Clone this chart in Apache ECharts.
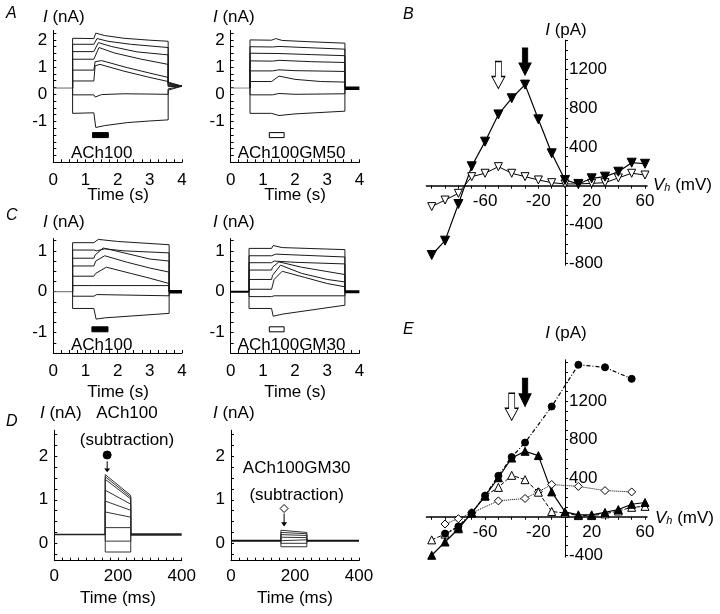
<!DOCTYPE html>
<html><head><meta charset="utf-8">
<script src="https://cdn.jsdelivr.net/npm/echarts@6/dist/echarts.min.js"></script>
<style>html,body{margin:0;padding:0;background:#fff}#c{width:720px;height:614px}</style>
</head><body><div id="c"></div>
<script>
// ---------- DATA ----------
// Panel A (time s, current nA)
const aLeftHold = [[0,0.23],[0.6,0.23]];
const aLeftTraces = [
 [[0.6,0.23],[0.6,2.06],[1.26,2.05],[1.32,2.25],[1.6,2.16],[2.2,2.06],[3.0,1.99],[3.57,1.95],[3.57,0.45],[4,0.3]],
 [[0.6,0.23],[0.6,1.84],[1.26,1.84],[1.36,2.05],[1.7,1.95],[2.4,1.84],[3.57,1.72],[3.57,0.42],[4,0.3]],
 [[0.6,0.23],[0.6,1.57],[1.26,1.57],[1.4,1.9],[1.8,1.76],[2.6,1.56],[3.57,1.45],[3.57,0.38],[4,0.3]],
 [[0.6,0.23],[0.6,1.29],[1.26,1.29],[1.42,1.72],[1.9,1.52],[2.7,1.3],[3.57,1.1],[3.57,0.35],[4,0.3]],
 [[0.6,0.23],[0.6,0.89],[1.26,0.89],[1.3,1.2],[1.5,1.24],[2.3,0.98],[3.0,0.78],[3.57,0.62],[3.57,0.32],[4,0.3]],
 [[0.6,0.23],[0.6,0.49],[1.26,0.49],[1.3,1.05],[1.45,1.1],[2.2,0.85],[3.0,0.62],[3.57,0.47],[3.57,0.28],[4,0.3]],
 [[0.6,0.23],[0.6,-0.02],[1.26,-0.02],[1.3,-0.1],[1.5,-0.01],[2.2,0.02],[3.57,0.0],[3.57,0.2],[4,0.3]],
 [[0.6,0.23],[0.6,-0.70],[1.26,-0.68],[1.32,-1.22],[1.6,-1.15],[2.3,-1.04],[3.0,-0.98],[3.57,-0.94],[3.57,0.15],[4,0.3]]
];
const aRightHold = [[0,0.23],[0.6,0.23]];
const aRightTail = [[3.55,0.22],[4,0.22]];
const aRightTraces = [
 [[0.6,0.23],[0.6,2.0],[1.27,1.99],[1.4,2.05],[1.6,1.98],[2.5,1.93],[3.55,1.88],[3.55,0.22]],
 [[0.6,0.23],[0.6,1.75],[1.3,1.74],[1.5,1.76],[2.5,1.71],[3.55,1.66],[3.55,0.22]],
 [[0.6,0.23],[0.6,1.51],[1.5,1.5],[2.5,1.46],[3.55,1.42],[3.55,0.22]],
 [[0.6,0.23],[0.6,1.23],[1.3,1.22],[1.5,1.25],[2.5,1.2],[3.55,1.17],[3.55,0.22]],
 [[0.6,0.23],[0.6,0.86],[1.3,0.86],[1.5,0.9],[2.0,0.87],[3.55,0.84],[3.55,0.22]],
 [[0.6,0.23],[0.6,0.47],[1.27,0.47],[1.5,0.67],[2.0,0.55],[2.8,0.47],[3.55,0.45],[3.55,0.22]],
 [[0.6,0.23],[0.6,-0.02],[1.3,-0.02],[1.5,0.03],[2.0,0.0],[3.55,0.02],[3.55,0.22]],
 [[0.6,0.23],[0.6,-0.70],[1.27,-0.70],[1.5,-0.78],[2.0,-0.72],[3.55,-0.62],[3.55,0.22]]
];
// Panel C
const cLeftHold = [[0,0.0],[0.6,0.0]];
const cLeftTail = [[3.6,0.0],[4,0.0]];
const cLeftTraces = [
 [[0.6,0],[0.6,1.20],[1.26,1.20],[1.4,1.28],[2.0,1.23],[3.6,1.15],[3.6,0]],
 [[0.6,0],[0.6,1.02],[1.26,1.02],[1.35,1.0],[1.6,1.05],[2.2,1.0],[3.6,0.95],[3.6,0]],
 [[0.6,0],[0.6,0.82],[1.26,0.82],[1.3,0.9],[1.55,1.07],[2.2,0.95],[3.0,0.8],[3.6,0.75],[3.6,0]],
 [[0.6,0],[0.6,0.63],[1.26,0.63],[1.32,0.75],[1.6,0.88],[2.3,0.72],[3.0,0.58],[3.6,0.48],[3.6,0]],
 [[0.6,0],[0.6,0.38],[1.26,0.38],[1.32,0.45],[1.65,0.6],[2.4,0.45],[3.0,0.33],[3.6,0.2],[3.6,0]],
 [[0.6,0],[0.6,0.15],[1.26,0.15],[3.6,0.15],[3.6,0]],
 [[0.6,0],[0.6,-0.11],[1.26,-0.11],[1.35,-0.07],[3.6,-0.1],[3.6,0]],
 [[0.6,0],[0.6,-0.41],[1.26,-0.41],[1.33,-0.67],[1.6,-0.64],[3.6,-0.53],[3.6,0]]
];
const cRightHold = [[0,0.0],[0.57,0.0]];
const cRightTail = [[3.55,0.0],[4,0.0]];
const cRightTraces = [
 [[0.57,0],[0.57,1.06],[1.27,1.06],[1.32,1.13],[1.6,1.08],[3.55,1.03],[3.55,0]],
 [[0.57,0],[0.57,0.88],[1.27,0.88],[1.4,0.92],[3.55,0.85],[3.55,0]],
 [[0.57,0],[0.57,0.71],[1.27,0.71],[1.35,0.75],[2.0,0.72],[3.55,0.68],[3.55,0]],
 [[0.57,0],[0.57,0.53],[1.27,0.53],[1.3,0.6],[1.5,0.73],[2.2,0.6],[3.55,0.42],[3.55,0]],
 [[0.57,0],[0.57,0.30],[1.27,0.30],[1.3,0.4],[1.55,0.65],[2.2,0.45],[3.0,0.3],[3.55,0.24],[3.55,0]],
 [[0.57,0],[0.57,0.06],[1.27,0.06],[1.35,0.3],[1.6,0.5],[2.3,0.35],[3.0,0.2],[3.55,0.12],[3.55,0]],
 [[0.57,0],[0.57,-0.12],[1.27,-0.12],[1.35,-0.1],[3.55,-0.1],[3.55,0]],
 [[0.57,0],[0.57,-0.41],[1.27,-0.41],[1.32,-0.6],[1.6,-0.55],[3.55,-0.33],[3.55,0]]
];
// ACh application bars [start s, end s, level nA]
const aBars = [[1.22,1.71,-1.5]];
const aBarsOpen = [[1.2,1.66,-1.5]];
const cBars = [[1.2,1.7,-0.92]];
const cBarsOpen = [[1.2,1.66,-0.92]];

// Panel D (time ms, current nA): subtracted traces
const dLeftBase = 0.2, dLeftOn = 160, dLeftOff = 240;
const dLeftStart = [1.58,1.53,1.47,1.22,0.97,0.72,0.36,0.05,-0.20];
const dLeftEnd   = [1.10,1.06,1.02,0.90,0.76,0.60,0.36,0.05,-0.20];
const dRightBase = 0.06, dRightOn = 156, dRightOff = 237;
const dRightStart = [0.30,0.25,0.20,0.14,0.08,0.0,-0.08];
const dRightEnd   = [0.25,0.22,0.18,0.13,0.08,0.0,-0.08];
const dLeftMark = [[166,2.03]], dLeftArrow = [[166,1.76]];
const dRightMark = [[166,0.80]], dRightArrow = [[166,0.535]];

// Panel B (Vh mV, I pA)
const bVh = [-100,-90,-80,-70,-60,-50,-40,-30,-20,-10,0,10,20,30,40,50,60];
const bAch100 = [-715,-567,-189,200,454,735,901,1042,684,334,59,18,76,93,144,237,226];
const bAch100GM50 = [-216,-148,-79,93,128,196,128,93,59,31,18,18,24,31,80,128,110];
const bArrowOpen = [[-50,1141]];
const bArrowFilled = [[-30,1278]];

// Panel E
const eCircleVh = [-90,-80,-70,-60,-50,-40,-30,-10,10,30,50];
const eCircle = [-175,-100,40,220,425,620,770,1145,1578,1552,1432];
const eDiamondVh = [-90,-80,-70,-50,-30,-20,-10,10,30,50];
const eDiamond = [-75,-20,40,165,190,260,335,315,272,258];
const eTriVh = [-100,-90,-80,-70,-60,-50,-40,-30,-20,-10,0,10,20,30,40,50,60];
const eTriFilled = [-400,-262,-125,40,215,405,610,680,635,258,50,20,20,45,75,130,148];
const eTriOpen = [-240,-180,-110,40,215,305,430,385,255,55,38,12,12,30,60,98,108];
const eArrowOpen = [[-40,1143]];
const eArrowFilled = [[-30,1290]];

// Tick labels
const traceSecLabels = [0,1,2,3,4];
const traceMsLabels = [0,200,400];
const aYLabels = [-1,0,1,2];
const cYLabels = [-1,0,1];
const dYLabels = [0,1,2];
const bXLabels = [-60,-20,20,60];
const bYLabels = [-800,-400,400,800,1200];
const eYLabels = [-400,400,800,1200];

// ---------- BUILD ----------
const FONT = 'Liberation Sans, Arial, Helvetica, sans-serif';
const FS = 17;
function steps(a,b,s){const r=[];for(let v=a;v<=b+1e-9;v+=s)r.push(+v.toFixed(4));return r;}
const plain = v => String(v);

const grids = [
 {left:53.3, top:30.4, width:128.7, height:131.9},  // A left
 {left:230.7,top:30.4, width:128.7, height:131.9},  // A right
 {left:53.3, top:238.6,width:128.7, height:114.4},  // C left
 {left:230.7,top:238.6,width:128.7, height:114.4},  // C right
 {left:54.3, top:430.2,width:127.4, height:130.5},  // D left
 {left:231,  top:430.2,width:128,   height:130.5},  // D right
 {left:426.4,top:40.2, width:220.6, height:225},    // B
 {left:426.4,top:359.8,width:220.6, height:197.4}   // E
];
function traceX(max, labels, tickStep, margin){
  return {type:'value',min:0,max:max,axisLine:{onZero:false,lineStyle:{color:'#000',width:1}},
    axisTick:{inside:true,length:3,customValues:steps(0,max,tickStep),lineStyle:{color:'#000'}},
    axisLabel:{customValues:labels,formatter:plain,margin:margin,fontFamily:FONT,fontSize:FS,color:'#000'},
    splitLine:{show:false}};
}
function traceY(min,max,labels,tmin,tmax,tstep){
  return {type:'value',min:min,max:max,axisLine:{onZero:false,lineStyle:{color:'#000',width:1}},
    axisTick:{inside:true,length:3,customValues:steps(tmin,tmax,tstep),lineStyle:{color:'#000'}},
    axisLabel:{customValues:labels,formatter:plain,margin:6,fontFamily:FONT,fontSize:FS,color:'#000'},
    splitLine:{show:false}};
}
const ivXmin = -104, ivXmax = 61.5;
function ivX(gi, ymin, ymax){
  const g = grids[gi];
  const off = -((0 - ymin)/(ymax - ymin))*g.height;   // put the axis on I = 0
  return {type:'value',min:ivXmin,max:ivXmax,position:'bottom',offset:off,
    axisLine:{onZero:false,lineStyle:{color:'#000',width:1.5}},
    axisTick:{inside:false,length:3,customValues:steps(-100,60,10),lineStyle:{color:'#000'}},
    axisLabel:{customValues:bXLabels,formatter:plain,margin:7,fontFamily:FONT,fontSize:FS,color:'#000'},
    splitLine:{show:false}};
}
function ivY(gi,min,max,labels,tmin,tmax){
  const g = grids[gi];
  const off = -((ivXmax - 0)/(ivXmax - ivXmin))*g.width;   // put the axis on Vh = 0
  return {type:'value',min:min,max:max,position:'right',offset:off,
    axisLine:{onZero:false,lineStyle:{color:'#000',width:1}},
    axisTick:{inside:false,length:3,customValues:steps(tmin,tmax,100),lineStyle:{color:'#000'}},
    axisLabel:{customValues:labels,formatter:plain,margin:4,fontFamily:FONT,fontSize:FS,color:'#000'},
    splitLine:{show:false}};
}
const bYmin=-820,bYmax=1500,eYmin=-420,eYmax=1630;
const xAxis = [traceX(4,traceSecLabels,0.25,10),traceX(4,traceSecLabels,0.25,10),
  traceX(4,traceSecLabels,0.25,10),traceX(4,traceSecLabels,0.25,10),
  traceX(400,traceMsLabels,25,7),traceX(400,traceMsLabels,25,7), ivX(6,bYmin,bYmax), ivX(7,eYmin,eYmax)];
xAxis.forEach((a,i)=>a.gridIndex=i);
const yAxis = [traceY(-2.5,2.35,aYLabels,-2.5,2.25,0.25),traceY(-2.5,2.35,aYLabels,-2.5,2.25,0.25),
  traceY(-1.5,1.3,cYLabels,-1.5,1.25,0.25),traceY(-1.5,1.3,cYLabels,-1.5,1.25,0.25),
  traceY(-0.4,2.6,dYLabels,-0.25,2.5,0.25),traceY(-0.4,2.6,dYLabels,-0.25,2.5,0.25),
  ivY(6,bYmin,bYmax,bYLabels,-800,1500), ivY(7,eYmin,eYmax,eYLabels,-400,1600)];
yAxis.forEach((a,i)=>a.gridIndex=i);

const series = [];
function line(gi, data, opt){
  opt = opt||{};
  series.push({type:'line',xAxisIndex:gi,yAxisIndex:gi,data:data,showSymbol:false,symbol:'none',
    silent:true,animation:false,z:opt.z||2,
    lineStyle:{color:opt.color||'#1a1a1a',width:opt.width||1,type:opt.type||'solid'}});
}
line(0,aLeftHold,{color:'#666'}); aLeftTraces.forEach(t=>line(0,t));
line(1,aRightHold,{color:'#888'}); aRightTraces.forEach(t=>line(1,t)); line(1,aRightTail,{width:3.5,color:'#000'});
line(2,cLeftHold,{color:'#666'}); cLeftTraces.forEach(t=>line(2,t)); line(2,cLeftTail,{width:3.5,color:'#000'});
line(3,cRightHold,{width:2,color:'#000'}); cRightTraces.forEach(t=>line(3,t)); line(3,cRightTail,{width:3,color:'#000'});
// D traces built from step levels
dLeftStart.forEach((s,i)=>line(4,[[dLeftOn,dLeftBase],[dLeftOn,s],[dLeftOff,dLeftEnd[i]],[dLeftOff,dLeftBase]],{color:'#333'}));
line(4,[[0,dLeftBase],[dLeftOn,dLeftBase]],{width:1.5,color:'#222'});
line(4,[[dLeftOff,dLeftBase],[400,dLeftBase]],{width:2.5,color:'#222'});
dRightStart.forEach((s,i)=>line(5,[[dRightOn,dRightBase],[dRightOn,s],[dRightOff,dRightEnd[i]],[dRightOff,dRightBase]],{color:'#333'}));
line(5,[[0,dRightBase],[dRightOn,dRightBase]],{width:2,color:'#111'});
line(5,[[dRightOff,dRightBase],[400,dRightBase]],{width:2,color:'#111'});

function barSeries(gi,data,fill){
  series.push({type:'custom',xAxisIndex:gi,yAxisIndex:gi,data:data,silent:true,animation:false,z:5,
    renderItem:(p,api)=>{const a=api.coord([api.value(0),api.value(2)]);const b=api.coord([api.value(1),api.value(2)]);
      return {type:'rect',shape:{x:a[0],y:a[1]-2.5,width:b[0]-a[0],height:5},style:{fill:fill,stroke:'#000',lineWidth:1}};}});
}
barSeries(0,aBars,'#000'); barSeries(1,aBarsOpen,'#fff');
barSeries(2,cBars,'#000'); barSeries(3,cBarsOpen,'#fff');

const thinArrow = 'path://M2.5,0 L3.5,0 L3.5,8 L6,8 L3,12 L0,8 L2.5,8 Z';
const blockArrow = 'path://M3.5,0 L9.5,0 L9.5,15 L13,15 L6.5,27 L0,15 L3.5,15 Z';
function scat(gi,data,symbol,size,fill,opt){
  opt=opt||{};
  series.push({type:'scatter',xAxisIndex:gi,yAxisIndex:gi,data:data,symbol:symbol,symbolSize:size,
    symbolRotate:opt.rotate||0,silent:true,animation:false,z:opt.z||6,
    itemStyle:{color:fill,borderColor:'#000',borderWidth:opt.bw===undefined?1:opt.bw,opacity:1}});
}
scat(4,dLeftMark,'circle',8,'#000');
scat(4,dLeftArrow,thinArrow,[6,11],'#000',{bw:0});
scat(5,dRightMark,'diamond',8,'#fff');
scat(5,dRightArrow,thinArrow,[6,13],'#000',{bw:0});

function ivSeries(gi,xs,ys,symbol,size,fill,ltype,lw,rot){
  series.push({type:'line',xAxisIndex:gi,yAxisIndex:gi,data:xs.map((v,i)=>[v,ys[i]]),
    symbol:symbol,symbolSize:size,symbolRotate:rot||0,showSymbol:true,silent:true,animation:false,z:4,
    lineStyle:{color:'#000',width:lw,type:ltype},
    itemStyle:{color:fill,borderColor:'#000',borderWidth:1}});
}
ivSeries(6,bVh,bAch100GM50,'triangle',8,'#fff','solid',1,180);
ivSeries(6,bVh,bAch100,'triangle',9,'#000','solid',1.2,180);
scat(6,bArrowOpen,blockArrow,[13,27],'#fff');
scat(6,bArrowFilled,blockArrow,[12,27],'#000');

ivSeries(7,eDiamondVh,eDiamond,'diamond',8,'#fff','dotted',1);
ivSeries(7,eTriVh,eTriOpen,'triangle',8,'#fff','dashed',1);
ivSeries(7,eCircleVh,eCircle,'circle',7,'#000',[4,2,1,2],1.2);
ivSeries(7,eTriVh,eTriFilled,'triangle',8,'#000','solid',1.2);
scat(7,eArrowOpen,blockArrow,[13,27],'#fff');
scat(7,eArrowFilled,blockArrow,[12,28],'#000');

// ---------- TEXT ----------
const rich = {i:{fontStyle:'italic',fontFamily:FONT,fontSize:FS},s:{fontStyle:'italic',fontFamily:FONT,fontSize:11,verticalAlign:'bottom',padding:[6,0,0,0]},n:{fontFamily:FONT,fontSize:FS}};
function txt(text,x,y,align,opt){
  opt=opt||{};
  return {type:'text',x:x,y:y,silent:true,style:{text:text,fill:'#000',
    font:(opt.italic?'italic ':'')+(opt.bold?'bold ':'')+(opt.size||FS)+'px '+FONT,
    textAlign:align||'left',textVerticalAlign:'middle',rich:opt.rich?rich:undefined}};
}
const graphic = [
 txt('A',6,14,'left',{italic:true,size:16}),
 txt('B',403,15,'left',{italic:true,size:16}),
 txt('C',6,216,'left',{italic:true,size:16}),
 txt('D',6,422,'left',{italic:true,size:16}),
 txt('E',403,330,'left',{italic:true,size:16}),
 txt('{i|I}{n| (nA)}',43,17,'left',{rich:true}),
 txt('{i|I}{n| (nA)}',213,17,'left',{rich:true}),
 txt('{i|I}{n| (nA)}',43,222,'left',{rich:true}),
 txt('{i|I}{n| (nA)}',213,222,'left',{rich:true}),
 txt('{i|I}{n| (nA)}',40,413,'left',{rich:true}),
 txt('{i|I}{n| (nA)}',213,413,'left',{rich:true}),
 txt('ACh100',71,153,'left'),
 txt('ACh100GM50',237.7,153,'left'),
 txt('ACh100',71,345,'left'),
 txt('ACh100GM30',237.7,345,'left'),
 txt('Time (s)',118,195,'center'),
 txt('Time (s)',295,195,'center'),
 txt('Time (s)',118,392,'center'),
 txt('Time (s)',295,392,'center'),
 txt('Time (ms)',118,598,'center'),
 txt('Time (ms)',295,598,'center'),
 txt('ACh100',127,413,'center'),
 txt('(subtraction)',127,440,'center'),
 txt('ACh100GM30',296.7,468,'center'),
 txt('(subtraction)',296.7,495,'center'),
 txt('{i|I}{n| (pA)}',566,30,'center',{rich:true}),
 txt('{i|I}{n| (pA)}',566,333,'center',{rich:true}),
 txt('{i|V}{s|h}{n| (mV)}',653,185,'left',{rich:true}),
 txt('{i|V}{s|h}{n| (mV)}',655,518,'left',{rich:true})
];

const chart = echarts.init(document.getElementById('c'),null,{renderer:'canvas'});
chart.setOption({animation:false,backgroundColor:'#fff',grid:grids.map(g=>Object.assign({containLabel:false},g)),
  xAxis:xAxis,yAxis:yAxis,series:series,graphic:graphic});
</script></body></html>
